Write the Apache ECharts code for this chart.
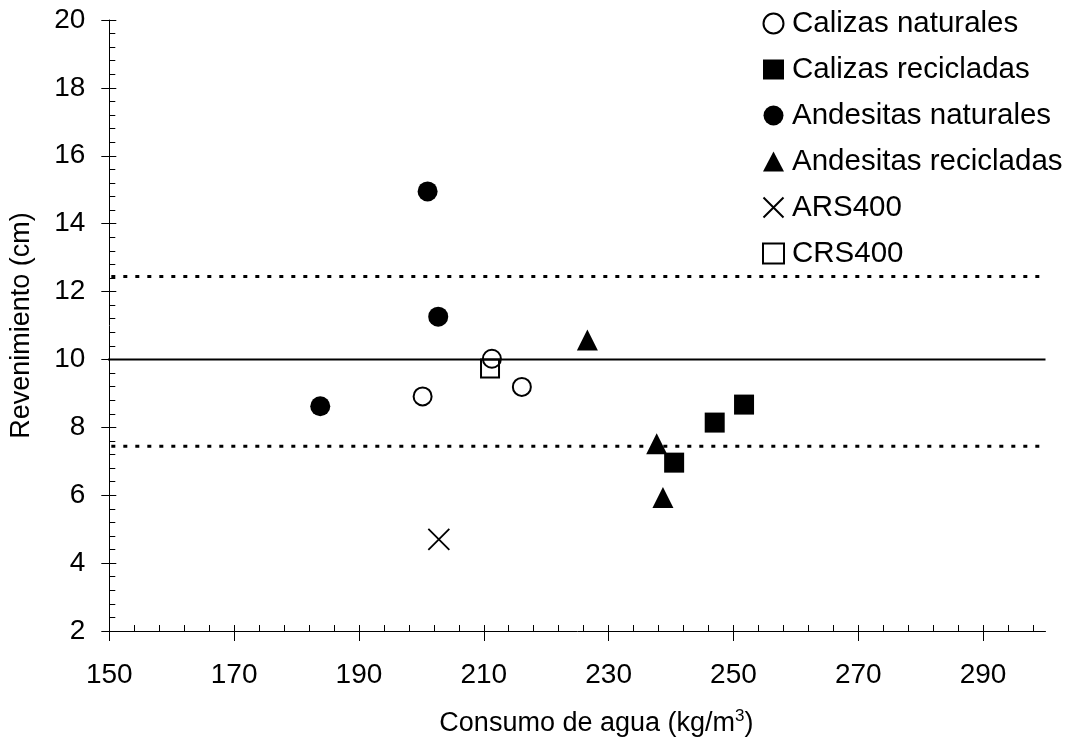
<!DOCTYPE html>
<html>
<head>
<meta charset="utf-8">
<script src="https://cdn.jsdelivr.net/npm/echarts@6/dist/echarts.min.js"></script>
<style>html,body{margin:0;padding:0;background:#fff}#c{width:1066px;height:750px}</style>
</head>
<body>
<div id="c"></div>
<script>
// ---- data ----
const calizasNaturales   = [[200.2, 8.91], [211.3, 10.02], [216.1, 9.19]];
const calizasRecicladas  = [[240.5, 6.96], [247.0, 8.14], [251.7, 8.67]];
const andesitasNaturales = [[183.8, 8.62], [201.0, 14.95], [202.7, 11.26]];
const andesitasRecicladas= [[226.6, 10.57], [237.7, 7.52], [238.7, 5.93]];
const ars400 = [[202.8, 4.70]];
const crs400 = [[211.0, 9.73]];
const refMean  = 10;
const refUpper = 12.44;
const refLower = 7.44;
const refXStart = 148.4, refXEnd = 300;
const seriesNames = ['Calizas naturales','Calizas recicladas','Andesitas naturales','Andesitas recicladas','ARS400','CRS400'];
const xMajorTicks = [150,170,190,210,230,250,270,290];
const xMinorStep = 4;
const xMin = 150, xMax = 300, yMin = 2, yMax = 20, yInterval = 2;

// inner tick positions for x (every 4 units, stop before the axis end)
const xInnerTicks = [];
xMajorTicks.forEach(t => { for (let k = 0; k < 5; k++) { const v = t + k * xMinorStep; if (v < xMax) xInnerTicks.push(v); } });

const font = 'Liberation Sans, Arial, sans-serif';
const black = '#000';

const chart = echarts.init(document.getElementById('c'), null, {renderer: 'canvas'});

function refLine(y, dashed, width) {
  return {
    type: 'line', data: [[refXStart, y], [refXEnd, y]], symbol: 'none', silent: true, clip: false,
    lineStyle: {color: black, width: width, type: dashed ? [4, 8] : 'solid', cap: 'butt', opacity: 1},
    z: 1, animation: false, legendHoverLink: false
  };
}

const openStyle = {color: 'transparent', borderColor: black, borderWidth: 2, opacity: 1};
const fillStyle = {color: black, borderColor: black, borderWidth: 0, opacity: 1};

chart.setOption({
  animation: false,
  backgroundColor: '#fff',
  textStyle: {fontFamily: font, color: black},
  grid: {left: 109.3, right: 20.5, top: 20, bottom: 119, containLabel: false},
  legend: {
    data: seriesNames,
    orient: 'vertical', left: 762, top: 8.5, padding: 0,
    itemWidth: 21, itemHeight: 20, itemGap: 16,
    textStyle: {fontFamily: font, fontSize: 29.5, color: black, lineHeight: 30, padding: [0, 0, 0, 3]},
    selectedMode: false
  },
  xAxis: [{
    type: 'value', min: xMin, max: xMax, interval: 20,
    name: 'Consumo de agua (kg/m{sup|3})', nameLocation: 'middle', nameGap: 77,
    nameTextStyle: {fontFamily: font, fontSize: 27, color: black, padding: [0, 0, 0, 38],
      rich: {sup: {fontSize: 17, fontFamily: font, color: black, padding: [0, 0, 14, 0]}}},
    axisLine: {show: true, lineStyle: {color: black, width: 1}},
    axisTick: {show: true, inside: false, length: 10, lineStyle: {color: black, width: 1}, customValues: xMajorTicks},
    axisLabel: {fontFamily: font, fontSize: 28, color: black, margin: 30, customValues: xMajorTicks},
    splitLine: {show: false}
  }, {
    type: 'value', min: xMin, max: xMax, position: 'bottom',
    axisLine: {show: false},
    axisTick: {show: true, inside: true, length: 6, lineStyle: {color: black, width: 1}, customValues: xInnerTicks},
    axisLabel: {show: false},
    splitLine: {show: false}
  }],
  yAxis: [{
    type: 'value', min: yMin, max: yMax, interval: yInterval,
    name: 'Revenimiento (cm)', nameLocation: 'middle', nameGap: 74, nameRotate: 90,
    nameTextStyle: {fontFamily: font, fontSize: 27, color: black},
    axisLine: {show: true, lineStyle: {color: black, width: 1}},
    axisTick: {show: true, inside: false, length: 8, lineStyle: {color: black, width: 1}},
    axisLabel: {fontFamily: font, fontSize: 28, color: black, margin: 24},
    splitLine: {show: false}
  }, {
    type: 'value', min: yMin, max: yMax, interval: yInterval, position: 'left',
    axisLine: {show: false},
    axisTick: {show: true, inside: true, length: 7, lineStyle: {color: black, width: 1}},
    minorTick: {show: true, splitNumber: 5, length: 6, lineStyle: {color: black, width: 1}},
    axisLabel: {show: false},
    splitLine: {show: false}
  }],
  series: [
    refLine(refMean, false, 2),
    refLine(refUpper, true, 3),
    refLine(refLower, true, 3),
    {name: seriesNames[0], type: 'scatter', data: calizasNaturales, symbol: 'circle', symbolSize: 18, itemStyle: openStyle, z: 5},
    {name: seriesNames[1], type: 'scatter', data: calizasRecicladas, symbol: 'rect', symbolSize: 20, itemStyle: fillStyle, z: 5},
    {name: seriesNames[2], type: 'scatter', data: andesitasNaturales, symbol: 'circle', symbolSize: 20, itemStyle: fillStyle, z: 5},
    {name: seriesNames[3], type: 'scatter', data: andesitasRecicladas, symbol: 'triangle', symbolSize: [21, 21], itemStyle: fillStyle, z: 5},
    {name: seriesNames[4], type: 'scatter', data: ars400, symbol: 'path://M0,0L20,20M20,0L0,20', symbolSize: 21,
      itemStyle: {color: 'transparent', borderColor: black, borderWidth: 1.8, opacity: 1}, z: 5},
    {name: seriesNames[5], type: 'scatter', data: crs400, symbol: 'rect', symbolSize: 18, itemStyle: openStyle, z: 5}
  ]
});
</script>
</body>
</html>
